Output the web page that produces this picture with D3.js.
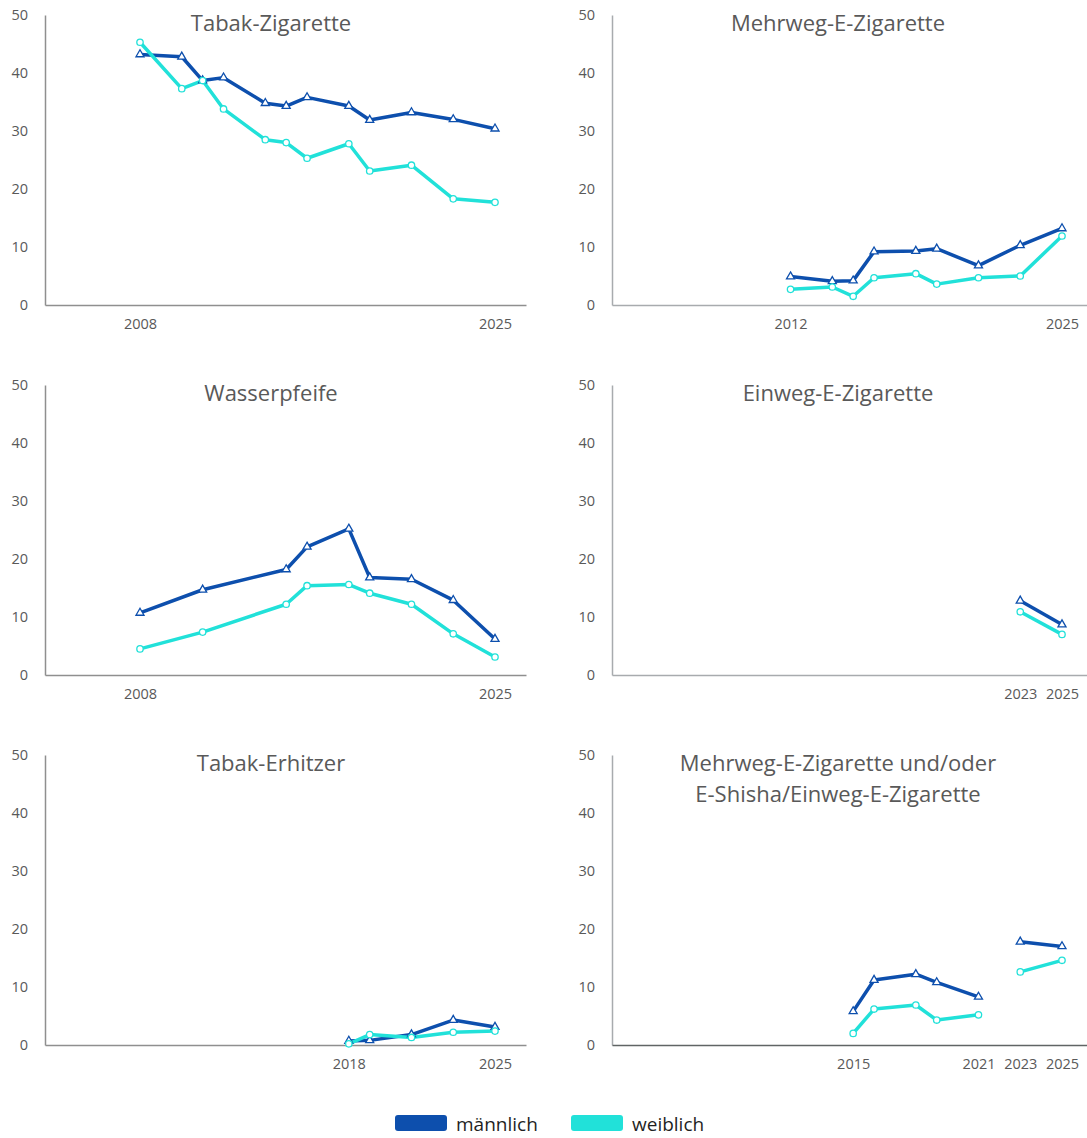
<!DOCTYPE html>
<html>
<head>
<meta charset="utf-8">
<script src="https://cdn.jsdelivr.net/npm/d3@7/dist/d3.min.js"></script>
<style>
  html, body { margin: 0; padding: 0; background: #fff; }
  svg { display: block; font-family: "Open Sans", "DejaVu Sans", sans-serif; }
</style>
</head>
<body>
<svg id="chart" width="1087" height="1138"></svg>
<script>
// ---------- DATA ----------
const seriesNames = ["männlich", "weiblich"];
const seriesColors = ["#0d4fad", "#21e1d9"];
const yTicks = [0, 10, 20, 30, 40, 50];

const titles = [
  ["Tabak-Zigarette"],
  ["Mehrweg-E-Zigarette"],
  ["Wasserpfeife"],
  ["Einweg-E-Zigarette"],
  ["Tabak-Erhitzer"],
  ["Mehrweg-E-Zigarette und/oder", "E-Shisha/Einweg-E-Zigarette"]
];

const tabakYears   = [2008, 2010, 2011, 2012, 2014, 2015, 2016, 2018, 2019, 2021, 2023, 2025];
const tabakMale    = [43.2, 42.8, 38.7, 39.2, 34.8, 34.3, 35.8, 34.3, 31.9, 33.2, 32.0, 30.4];
const tabakFemale  = [45.3, 37.3, 38.7, 33.8, 28.5, 28.0, 25.3, 27.8, 23.1, 24.1, 18.3, 17.7];
const tabakTicks   = [2008, 2025];

const mehrwegYears  = [2012, 2014, 2015, 2016, 2018, 2019, 2021, 2023, 2025];
const mehrwegMale   = [4.9, 4.1, 4.2, 9.2, 9.3, 9.7, 6.8, 10.3, 13.2];
const mehrwegFemale = [2.7, 3.1, 1.5, 4.7, 5.4, 3.6, 4.7, 5.0, 11.9];
const mehrwegTicks  = [2012, 2025];

const wasserYears  = [2008, 2011, 2015, 2016, 2018, 2019, 2021, 2023, 2025];
const wasserMale   = [10.7, 14.7, 18.2, 22.1, 25.2, 16.8, 16.5, 12.9, 6.2];
const wasserFemale = [4.5, 7.4, 12.2, 15.4, 15.6, 14.1, 12.2, 7.1, 3.1];
const wasserTicks  = [2008, 2025];

const einwegYears  = [2023, 2025];
const einwegMale   = [12.8, 8.7];
const einwegFemale = [10.9, 7.0];
const einwegTicks  = [2023, 2025];

const erhitzerYears  = [2018, 2019, 2021, 2023, 2025];
const erhitzerMale   = [0.7, 0.8, 1.8, 4.3, 3.1];
const erhitzerFemale = [0.2, 1.8, 1.3, 2.2, 2.4];
const erhitzerTicks  = [2018, 2025];

const kombiYears  = [2015, 2016, 2018, 2019, 2021, 2022, 2023, 2025];
const kombiMale   = [5.8, 11.2, 12.2, 10.8, 8.3, null, 17.8, 17.0];
const kombiFemale = [2.0, 6.2, 6.9, 4.3, 5.2, null, 12.6, 14.6];
const kombiTicks  = [2015, 2021, 2023, 2025];

const panels = [
  { years: tabakYears,    male: tabakMale,    female: tabakFemale,    ticks: tabakTicks },
  { years: mehrwegYears,  male: mehrwegMale,  female: mehrwegFemale,  ticks: mehrwegTicks },
  { years: wasserYears,   male: wasserMale,   female: wasserFemale,   ticks: wasserTicks },
  { years: einwegYears,   male: einwegMale,   female: einwegFemale,   ticks: einwegTicks },
  { years: erhitzerYears, male: erhitzerMale, female: erhitzerFemale, ticks: erhitzerTicks },
  { years: kombiYears,    male: kombiMale,    female: kombiFemale,    ticks: kombiTicks }
];

// ---------- LAYOUT ----------
const svg = d3.select("#chart");
const colX = [45, 612];        // y-axis position per column
const rowTop = [15, 385, 755]; // y of value 50 per row
const plotH = 290;
const axisLen = 481;
const textGray = "#595959";

panels.forEach((p, i) => {
  const col = i % 2, row = Math.floor(i / 2);
  const ox = colX[col], top = rowTop[row];
  const g = svg.append("g");

  const x = d3.scaleLinear().domain([2008, 2025]).range([ox + 95, ox + 450]);
  const y = d3.scaleLinear().domain([0, 50]).range([top + plotH, top]);

  const axisColor = col === 0 ? "#8f8f8f" : "#a8abae";
  const xAxisColor = (i === 5) ? "#606565" : axisColor;

  // y axis
  const yAxis = d3.axisLeft(y).tickValues(yTicks).tickSize(0).tickPadding(17);
  const ya = g.append("g").attr("transform", `translate(${ox},0)`).call(yAxis);
  ya.select(".domain").attr("stroke", axisColor).attr("stroke-width", 1.5);
  ya.selectAll("text").attr("fill", textGray).style("font-size", "14.5px")
    .style("font-family", "'Open Sans', sans-serif");

  // x axis
  const x0 = x.invert(ox), x1 = x.invert(ox + axisLen);
  const xs = d3.scaleLinear().domain([x0, x1]).range([ox, ox + axisLen]);
  const xAxis = d3.axisBottom(xs).tickValues(p.ticks).tickSize(0).tickPadding(14)
    .tickFormat(d3.format("d"));
  const xa = g.append("g").attr("transform", `translate(0,${y(0)})`).call(xAxis);
  xa.select(".domain").attr("stroke", xAxisColor).attr("stroke-width", 1.5);
  xa.selectAll("text").attr("fill", textGray).style("font-size", "14.5px")
    .style("font-family", "'Open Sans', sans-serif");

  // title
  const t = g.append("text")
    .attr("x", ox + 226)
    .attr("y", top + 16)
    .attr("text-anchor", "middle")
    .attr("fill", textGray)
    .style("font-size", "22px");
  titles[i].forEach((line, k) => {
    t.append("tspan").attr("x", ox + 226).attr("dy", k === 0 ? 0 : 31).text(line);
  });

  // lines
  [p.male, p.female].forEach((vals, s) => {
    const pts = p.years.map((yr, k) => ({ yr, v: vals[k] }));
    const line = d3.line().defined(d => d.v !== null).x(d => x(d.yr)).y(d => y(d.v));
    g.append("path").datum(pts)
      .attr("fill", "none")
      .attr("stroke", seriesColors[s])
      .attr("stroke-width", 3.5)
      .attr("stroke-linejoin", "round")
      .attr("d", line);
  });

  // markers
  const sym = d3.symbol().type(d3.symbolTriangle).size(28);
  g.append("g").selectAll("path")
    .data(p.years.map((yr, k) => ({ yr, v: p.male[k] })).filter(d => d.v !== null))
    .join("path")
    .attr("transform", d => `translate(${x(d.yr)},${y(d.v)})`)
    .attr("d", sym)
    .attr("fill", "#fff")
    .attr("stroke", seriesColors[0])
    .attr("stroke-width", 1.3);
  g.append("g").selectAll("circle")
    .data(p.years.map((yr, k) => ({ yr, v: p.female[k] })).filter(d => d.v !== null))
    .join("circle")
    .attr("cx", d => x(d.yr))
    .attr("cy", d => y(d.v))
    .attr("r", 3.2)
    .attr("fill", "#fff")
    .attr("stroke", seriesColors[1])
    .attr("stroke-width", 1.3);
});

// ---------- LEGEND ----------
const legendX = [395, 571];
const legend = svg.append("g");
seriesNames.forEach((name, i) => {
  legend.append("rect")
    .attr("x", legendX[i]).attr("y", 1115)
    .attr("width", 52).attr("height", 16)
    .attr("rx", 3)
    .attr("fill", seriesColors[i]);
  legend.append("text")
    .attr("x", legendX[i] + 61).attr("y", 1131)
    .attr("fill", "#1f1f1f")
    .style("font-size", "19px")
    .text(name);
});
</script>
</body>
</html>
